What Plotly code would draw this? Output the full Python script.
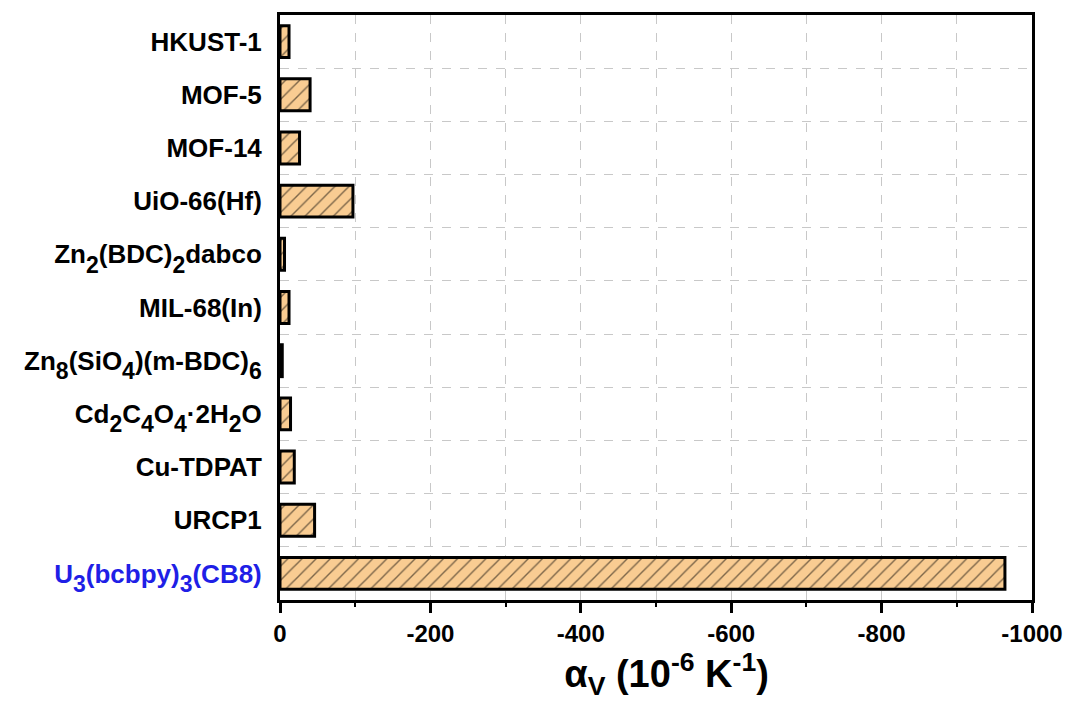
import plotly.graph_objects as go

SUB = "<sub><sub><span style='font-size:23px'>{}</span></sub></sub>"

def s(t):
    return SUB.format(t)

materials = [
    "HKUST-1",
    "MOF-5",
    "MOF-14",
    "UiO-66(Hf)",
    "Zn" + s("2") + "(BDC)" + s("2") + "dabco",
    "MIL-68(In)",
    "Zn" + s("8") + "(SiO" + s("4") + ")(m-BDC)" + s("6"),
    "Cd" + s("2") + "C" + s("4") + "O" + s("4") + "·2H" + s("2") + "O",
    "Cu-TDPAT",
    "URCP1",
    "<span style='color:#1f1fe6'>U" + s("3") + "(bcbpy)" + s("3") + "(CB8)</span>",
]
alpha_v = [-12, -40, -26, -97, -6, -12, -3, -14, -19, -46, -964]

x_tick_vals = [0, -200, -400, -600, -800, -1000]
x_tick_text = ["0", "-200", "-400", "-600", "-800", "-1000"]

positions = list(range(len(materials)))

fig = go.Figure()
fig.add_trace(go.Bar(
    y=positions,
    x=alpha_v,
    orientation="h",
    width=0.6,
    marker=dict(
        color="#f9cc92",
        line=dict(color="black", width=3),
        pattern=dict(shape="/", fgcolor="black", bgcolor="#f9cc92", size=10, solidity=0.14),
    ),
    showlegend=False,
))

font_family = "Liberation Sans, Arial, sans-serif"

fig.update_layout(
    width=1075,
    height=713,
    margin=dict(l=280, r=40, t=14, b=113),
    paper_bgcolor="white",
    plot_bgcolor="white",
    font=dict(family=font_family, color="black"),
    xaxis=dict(
        range=[0, -1000],
        tickmode="array",
        tickvals=x_tick_vals,
        ticktext=x_tick_text,
        tickfont=dict(size=24, family=font_family, weight="bold"),
        ticks="outside",
        ticklen=10,
        tickwidth=2.5,
        tickcolor="black",
        showline=True,
        linewidth=3,
        linecolor="black",
        mirror=True,
        showgrid=True,
        gridcolor="#c8c8c8",
        griddash="dash",
        gridwidth=1,
        zeroline=False,
        minor=dict(
            tickmode="linear", tick0=0, dtick=100,
            ticks="outside", ticklen=4, tickwidth=2, tickcolor="black",
            showgrid=True, gridcolor="#c8c8c8", griddash="dash", gridwidth=1,
        ),
        title=dict(
            text="&nbsp;&nbsp;α<sub>V</sub> (10<sup>-6</sup> K<sup>-1</sup>)",
            font=dict(size=38, family=font_family, weight="bold"),
            standoff=14,
        ),
    ),
    yaxis=dict(
        tickmode="array",
        tickvals=positions,
        ticktext=materials,
        range=[len(materials) - 0.5, -0.5],
        tickfont=dict(size=26, family=font_family, weight="bold"),
        ticks="",
        ticklabelstandoff=10,
        showline=True,
        linewidth=3,
        linecolor="black",
        mirror=True,
        showgrid=False,
        zeroline=False,
        minor=dict(
            tickmode="linear", tick0=0.5, dtick=1,
            ticks="", showgrid=True, gridcolor="#c8c8c8", griddash="dash", gridwidth=1,
        ),
    ),
)

fig.write_html("out.html")
